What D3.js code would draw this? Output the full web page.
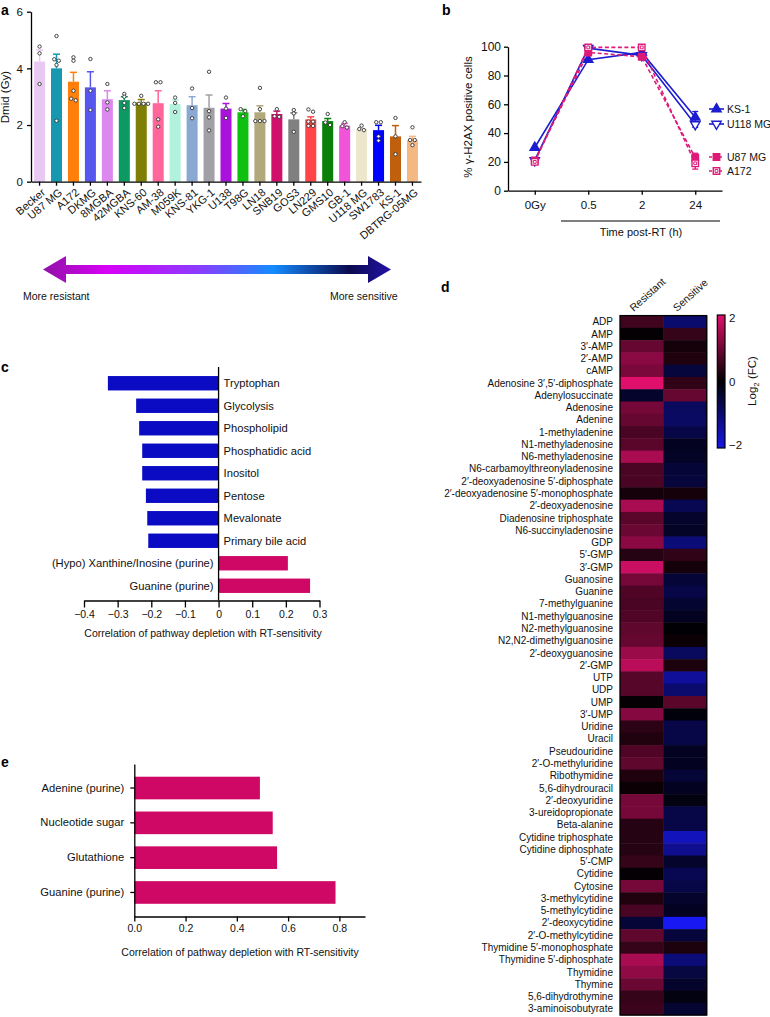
<!DOCTYPE html>
<html><head><meta charset="utf-8">
<script src="https://cdn.jsdelivr.net/npm/d3@7"></script>
<style>
body{margin:0;background:#fff;}
svg text{font-family:"Liberation Sans",Arial,Helvetica,sans-serif;fill:#111;}
</style></head><body>
<svg id="fig" width="770" height="1017"></svg>
<script>
// ---------- Panel a data ----------
const cellLines = ["Becker","U87 MG","A172","DKMG","8MGBA","42MGBA","KNS-60","AM-38","M059K","KNS-81","YKG-1","U138","T98G","LN18","SNB19","GOS3","LN229","GMS10","GB-1","U118 MG","SW1783","KS-1","DBTRG-05MG"];
const dmidMean = [4.24,4.0,3.53,3.33,2.91,2.88,2.8,2.77,2.74,2.7,2.61,2.58,2.45,2.45,2.39,2.2,2.2,2.14,1.98,1.85,1.82,1.6,1.47];
const dmidSem  = [0.41,0.5,0.33,0.55,0.3,0.12,0.1,0.44,0.14,0.3,0.45,0.18,0.1,0.23,0.1,0.23,0.09,0.09,0.08,0.03,0.17,0.38,0.13];
const dmidPoints = [
 [4.77,4.53,3.45],[5.14,4.32,4.27,4.12,2.15],[4.39,4.27,3.21,2.93,2.87],[4.33,3.21,2.53],
 [3.45,2.8,2.55],[3.1,3.0,2.78,2.6],[3.03,2.75,2.75,2.75,2.75],[3.51,3.51,2.2,1.94],
 [2.97,2.78,2.46],[3.29,2.6,2.24],[3.88,2.49,2.27,1.81],[2.97,2.58,2.25],[2.56,2.49,2.31],
 [3.31,2.56,2.14,2.14,2.14],[2.56,2.31,2.29],[2.53,2.41,1.76],[2.55,2.47,2.12,2.12,1.97,1.97],
 [2.39,2.09,2.0],[2.1,1.96,1.91],[1.98,1.86,1.82],[2.1,2.1,1.6,1.45],[2.25,1.6,0.97],[1.92,1.47,1.47,1.29]];
const barColors = ["#e9c9f2","#1798b0","#ff7f0a","#5757ef","#dc88ee","#0b9a62","#7f7f06","#ff6699","#b2f2dc","#8aa9d2","#a0a0a6","#a912dc","#10c010","#b1a97b","#d0106a","#808080","#ff4545","#0a800a","#f254d9","#ece6cc","#0000ff","#c0600f","#f4b882"];
const dmidTicks = [0,2,4,6];

// ---------- Panel b data ----------
const timeLabels = ["0Gy","0.5","2","24"];
const ks1Vals = [30,91,96,51],  ks1Err = [0,0,0,4];
const u118Vals = [21,99,94,46], u118Err = [0,0,0,2];
const u87Vals = [21,96,93,23],  u87Err = [1,1,1,3];
const a172Vals = [20,99.5,99.5,19], a172Err = [1,0,0,4];
const h2axTicks = [0,20,40,60,80,100];

// ---------- Panel c data ----------
const pathwaysC = ["Tryptophan","Glycolysis","Phospholipid","Phosphatidic acid","Inositol","Pentose","Mevalonate","Primary bile acid","(Hypo) Xanthine/Inosine (purine)","Guanine (purine)"];
const corrC = [-0.329,-0.245,-0.236,-0.227,-0.227,-0.216,-0.212,-0.209,0.206,0.272];
const ticksC = [-0.4,-0.3,-0.2,-0.1,0,0.1,0.2,0.3];

// ---------- Panel e data ----------
const pathwaysE = ["Adenine (purine)","Nucleotide sugar","Glutathione","Guanine (purine)"];
const corrE = [0.49,0.54,0.557,0.785];
const ticksE = [0,0.2,0.4,0.6,0.8];

// ---------- Panel d data ----------
const metabolites = ["ADP","AMP","3′-AMP","2′-AMP","cAMP","Adenosine 3′,5′-diphosphate","Adenylosuccinate","Adenosine","Adenine","1-methyladenine","N1-methyladenosine","N6-methyladenosine","N6-carbamoylthreonyladenosine","2′-deoxyadenosine 5′-diphosphate","2′-deoxyadenosine 5′-monophosphate","2′-deoxyadenosine","Diadenosine triphosphate","N6-succinyladenosine","GDP","5′-GMP","3′-GMP","Guanosine","Guanine","7-methylguanine","N1-methylguanosine","N2-methylguanosine","N2,N2-dimethylguanosine","2′-deoxyguanosine","2′-GMP","UTP","UDP","UMP","3′-UMP","Uridine","Uracil","Pseudouridine","2′-O-methyluridine","Ribothymidine","5,6-dihydrouracil","2′-deoxyuridine","3-ureidopropionate","Beta-alanine","Cytidine triphosphate","Cytidine diphosphate","5′-CMP","Cytidine","Cytosine","3-methylcytidine","5-methylcytidine","2′-deoxycytidine","2′-O-methylcytidine","Thymidine 5′-monophosphate","Thymidine 5′-diphosphate","Thymidine","Thymine","5,6-dihydrothymine","3-aminoisobutyrate"];
const groups = ["Resistant","Sensitive"];
const log2Resistant = [0.6,0.05,0.95,1.3,1.15,2.1,-0.4,1.1,0.95,0.7,0.85,1.6,0.7,0.7,0.2,1.6,0.85,1.0,1.3,0.35,1.9,1.1,0.75,0.7,0.75,0.9,0.95,1.45,1.75,0.8,0.8,0.05,1.25,0.4,0.3,0.75,0.9,0.3,0.1,1.1,1.1,0.35,0.35,0.35,0.5,0.05,1.1,0.3,0.7,-0.5,0.9,0.5,1.6,1.35,1.0,0.5,0.55];
const log2Sensitive = [-1.0,0.5,0.2,0.3,-0.55,0.45,0.95,-0.85,-0.9,-0.65,-0.3,-0.35,-0.5,-0.55,0.2,-0.75,-0.4,-0.35,-1.1,0.45,0.2,-0.5,-0.65,-0.45,-0.3,-0.05,0.1,-0.85,0.25,-1.4,-1.0,0.85,-0.1,-0.65,-0.65,-0.3,-0.3,-0.5,-0.3,-0.15,-0.65,-0.65,-1.7,-1.3,-0.4,-0.75,-0.65,-0.4,-0.3,-2.2,-0.55,0.25,-1.1,-0.6,-0.4,-0.15,-0.45];
const cbTicks = [-2,0,2];

// ================= drawing =================
const svg = d3.select("#fig");
const BLUE = "#0b0bc4", PINK = "#cf0865";

function panelLabel(t,x,y){
  svg.append("text").attr("x",x).attr("y",y).attr("font-size",14).attr("font-weight","bold").style("fill","#000").text(t);
}
function styleAxis(g, fs){
  g.selectAll("path,line").attr("stroke","#000").attr("stroke-width",1.3);
  g.selectAll("text").attr("font-size",fs).style("fill","#111").attr("font-family","Liberation Sans, Arial, sans-serif");
}

// ---------- Panel a ----------
panelLabel("a",1,15);
const ax = d3.scaleBand().domain(cellLines).range([31,421]).paddingInner(0.35).paddingOuter(0.18);
const ay = d3.scaleLinear().domain([0,6]).range([181.7,11.7]);
const gA = svg.append("g");
cellLines.forEach((c,i)=>{
  const x0 = ax(c), bw = ax.bandwidth(), cx = x0+bw/2;
  const col = barColors[i];
  gA.append("rect").attr("x",x0).attr("y",ay(dmidMean[i])).attr("width",bw).attr("height",ay(0)-ay(dmidMean[i])).attr("fill",col);
  const top = ay(dmidMean[i]+dmidSem[i]);
  gA.append("line").attr("x1",cx).attr("x2",cx).attr("y1",ay(dmidMean[i])).attr("y2",top).attr("stroke",col).attr("stroke-width",1.5);
  gA.append("line").attr("x1",cx-3.5).attr("x2",cx+3.5).attr("y1",top).attr("y2",top).attr("stroke",col).attr("stroke-width",1.5);
  const pts = dmidPoints[i].slice().sort((a,b)=>b-a);
  const clusters = [];
  pts.forEach(v=>{
    const last = clusters[clusters.length-1];
    if(last && Math.abs(last[last.length-1]-v) < 0.09) last.push(v); else clusters.push([v]);
  });
  clusters.forEach(cl=>{
    cl.forEach((v,k)=>{
      const off = (k-(cl.length-1)/2)*4.6;
      gA.append("circle").attr("cx",cx+off).attr("cy",ay(v)).attr("r",1.7)
        .attr("fill","#fff").attr("stroke","#333").attr("stroke-width",0.9);
    });
  });
});
const yAxA = svg.append("g").attr("transform","translate(31,0)").call(d3.axisLeft(ay).tickValues(dmidTicks).tickFormat(d3.format("d")).tickSize(4).tickSizeOuter(0).tickPadding(4));
styleAxis(yAxA, 11.5);
const xAxA = svg.append("g").attr("transform",`translate(0,${ay(0)})`).call(d3.axisBottom(ax).tickSize(4).tickSizeOuter(0));
styleAxis(xAxA, 11);
xAxA.selectAll("text").attr("text-anchor","end").attr("x",0).attr("y",0).attr("dy","0.35em").attr("transform","translate(4,9) rotate(-40)");
svg.append("text").attr("transform","translate(9,97) rotate(-90)").attr("text-anchor","middle").attr("font-size",11.5).text("Dmid (Gy)");

// Arrow
const defs = svg.append("defs");
const grad = defs.append("linearGradient").attr("id","arrowGrad").attr("x1","0").attr("x2","1").attr("y1","0").attr("y2","0");
[["0","#9012a6"],["0.18","#d800f6"],["0.45","#8a3cff"],["0.66","#148cff"],["0.88","#0a0a4e"],["1","#2412a8"]]
  .forEach(s=>grad.append("stop").attr("offset",s[0]).attr("stop-color",s[1]));
const arrowPath = d3.path();
arrowPath.moveTo(43,269.5); arrowPath.lineTo(66,256); arrowPath.lineTo(66,265); arrowPath.lineTo(368,265);
arrowPath.lineTo(368,256); arrowPath.lineTo(391,269.5); arrowPath.lineTo(368,283); arrowPath.lineTo(368,274);
arrowPath.lineTo(66,274); arrowPath.lineTo(66,283); arrowPath.closePath();
svg.append("path").attr("d",arrowPath.toString()).attr("fill","url(#arrowGrad)");
svg.append("text").attr("x",23).attr("y",300).attr("font-size",10.5).text("More resistant");
svg.append("text").attr("x",330).attr("y",300).attr("font-size",10.5).text("More sensitive");

// ---------- Panel b ----------
panelLabel("b",442,15);
const bx = d3.scalePoint().domain(timeLabels).range([508,722]).padding(0.5);
const by = d3.scaleLinear().domain([0,100]).range([190.7,46.7]);
const BBLUE = "#1c1cd0", BPINK = "#de1a78";
const seriesB = [
  {name:"KS-1", vals:ks1Vals, err:ks1Err, color:BBLUE, dash:null, sym:"tri", fill:true},
  {name:"U118 MG", vals:u118Vals, err:u118Err, color:BBLUE, dash:null, sym:"tridown", fill:false},
  {name:"U87 MG", vals:u87Vals, err:u87Err, color:BPINK, dash:"4,2.5", sym:"sq", fill:true},
  {name:"A172", vals:a172Vals, err:a172Err, color:BPINK, dash:"4,2.5", sym:"sq", fill:false}
];
function marker(g, s, x, y){
  const type = s.sym==="sq" ? d3.symbolSquare : d3.symbolTriangle;
  const size = s.sym==="sq" ? 42 : 38;
  g.append("path").attr("d",d3.symbol().type(type).size(size)())
    .attr("transform",`translate(${x},${y})${s.sym==="tridown"?" rotate(180)":""}`)
    .attr("stroke",s.color).attr("stroke-width",1.4).attr("fill",s.fill?s.color:"#fff");
  if(s.sym==="sq" && !s.fill){
    g.append("path").attr("d",d3.symbol().type(d3.symbolSquare).size(8)()).attr("transform",`translate(${x},${y})`).attr("fill","none").attr("stroke",s.color).attr("stroke-width",1);
  }
}
const gB = svg.append("g");
seriesB.forEach(s=>{
  const line = d3.line().x((d,i)=>bx(timeLabels[i])).y(d=>by(d));
  gB.append("path").attr("d",line(s.vals)).attr("fill","none").attr("stroke",s.color).attr("stroke-width",1.6).attr("stroke-dasharray",s.dash);
  s.vals.forEach((v,i)=>{
    if(s.err[i]>0){
      const x = bx(timeLabels[i]);
      gB.append("line").attr("x1",x).attr("x2",x).attr("y1",by(v-s.err[i])).attr("y2",by(v+s.err[i])).attr("stroke",s.color).attr("stroke-width",1.3);
      [v-s.err[i],v+s.err[i]].forEach(e=>gB.append("line").attr("x1",x-3).attr("x2",x+3).attr("y1",by(e)).attr("y2",by(e)).attr("stroke",s.color).attr("stroke-width",1.3));
    }
  });
});
seriesB.forEach(s=>s.vals.forEach((v,i)=>marker(gB,s,bx(timeLabels[i]),by(v))));
const yAxB = svg.append("g").attr("transform","translate(508,0)").call(d3.axisLeft(by).tickValues(h2axTicks).tickSize(4).tickSizeOuter(0).tickPadding(3));
styleAxis(yAxB, 12);
const xAxB = svg.append("g").attr("transform",`translate(0,${by(0)})`).call(d3.axisBottom(bx).tickSize(4).tickSizeOuter(0).tickPadding(6));
styleAxis(xAxB, 11.5);
svg.append("line").attr("x1",561).attr("x2",720).attr("y1",221).attr("y2",221).attr("stroke","#000").attr("stroke-width",1.2);
svg.append("text").attr("x",641).attr("y",236).attr("text-anchor","middle").attr("font-size",11).text("Time post-RT (h)");
svg.append("text").attr("transform","translate(472,117) rotate(-90)").attr("text-anchor","middle").attr("font-size",11.5).text("% γ-H2AX positive cells");
const legY = [109,124,157,171];
seriesB.forEach((s,i)=>{
  gB.append("line").attr("x1",709).attr("x2",724).attr("y1",legY[i]).attr("y2",legY[i]).attr("stroke",s.color).attr("stroke-width",1.6).attr("stroke-dasharray",s.dash?"3,2":null);
  marker(gB,s,716.5,legY[i]);
  svg.append("text").attr("x",727).attr("y",legY[i]+4).attr("font-size",10.5).text(s.name);
});

// ---------- Panel c ----------
panelLabel("c",1,372);
const cx = d3.scaleLinear().domain([-0.4,0.3]).range([84,319.5]);
const cy = d3.scaleBand().domain(pathwaysC).range([372,597]).paddingInner(0.36).paddingOuter(0.18);
const gC = svg.append("g");
pathwaysC.forEach((p,i)=>{
  const v = corrC[i];
  gC.append("rect").attr("x",cx(Math.min(0,v))).attr("y",cy(p)).attr("width",Math.abs(cx(v)-cx(0))).attr("height",cy.bandwidth()).attr("fill",v<0?BLUE:PINK);
  const t = gC.append("text").attr("y",cy(p)+cy.bandwidth()/2).attr("dy","0.35em").attr("font-size",11.2).text(p);
  if(v<0) t.attr("x",cx(0)+5).attr("text-anchor","start"); else t.attr("x",cx(0)-5).attr("text-anchor","end");
});
svg.append("line").attr("x1",cx(0)).attr("x2",cx(0)).attr("y1",367).attr("y2",600).attr("stroke","#000").attr("stroke-width",1.3);
const fmtC = d=> d===0 ? "0" : d3.format(".1f")(d).replace("-","−");
const xAxC = svg.append("g").attr("transform","translate(0,600.5)").call(d3.axisBottom(cx).tickValues(ticksC).tickFormat(fmtC).tickSize(7).tickSizeOuter(0).tickPadding(3));
styleAxis(xAxC, 10.5);
svg.append("text").attr("x",203).attr("y",637).attr("text-anchor","middle").attr("font-size",10.5).text("Correlation of pathway depletion with RT-sensitivity");

// ---------- Panel e ----------
panelLabel("e",1,767);
const ex = d3.scaleLinear().domain([0,0.9]).range([134.3,365]);
const ey = d3.scaleBand().domain(pathwaysE).range([764,916.5]).paddingInner(0.35).paddingOuter(0.365);
const gE = svg.append("g");
pathwaysE.forEach((p,i)=>{
  gE.append("rect").attr("x",ex(0)).attr("y",ey(p)).attr("width",ex(corrE[i])-ex(0)).attr("height",ey.bandwidth()).attr("fill",PINK);
});
const yAxE = svg.append("g").attr("transform",`translate(${ex(0)},0)`).call(d3.axisLeft(ey).tickSize(4).tickSizeOuter(0).tickPadding(6));
styleAxis(yAxE, 11.2);
const xAxE = svg.append("g").attr("transform","translate(0,916.5)").call(d3.axisBottom(ex).tickValues(ticksE).tickFormat(d3.format(".1f")).tickSize(5).tickSizeOuter(0).tickPadding(3));
styleAxis(xAxE, 10.5);
svg.append("text").attr("x",240).attr("y",956).attr("text-anchor","middle").attr("font-size",10.5).text("Correlation of pathway depletion with RT-sensitivity");

// ---------- Panel d ----------
panelLabel("d",441,292);
const dx = d3.scaleBand().domain(groups).range([620,706.7]);
const dy = d3.scaleBand().domain(metabolites).range([315.6,1015]);
const color = d3.scaleLinear().domain([-2.2,0,2.2]).range(["#1818f2","#000000","#ea1070"]).clamp(true);
const gD = svg.append("g");
metabolites.forEach((m,i)=>{
  [log2Resistant[i],log2Sensitive[i]].forEach((v,j)=>{
    gD.append("rect").attr("x",dx(groups[j])).attr("y",dy(m)).attr("width",dx.bandwidth()+0.5).attr("height",dy.bandwidth()+0.5).attr("fill",color(v));
  });
  gD.append("text").attr("x",613).attr("y",dy(m)+dy.bandwidth()/2).attr("dy","0.35em").attr("text-anchor","end").attr("font-size",10).text(m);
});
gD.append("rect").attr("x",620).attr("y",315.6).attr("width",86.7).attr("height",1015-315.6).attr("fill","none").attr("stroke","#000").attr("stroke-width",1.3);
groups.forEach(g=>{
  svg.append("text").attr("transform",`translate(${dx(g)+dx.bandwidth()/2-8},312) rotate(-42)`).attr("font-size",10.5).text(g);
});
const cbY = d3.scaleLinear().domain([-2.1,2.1]).range([448,315]);
const cgrad = defs.append("linearGradient").attr("id","cbGrad").attr("x1","0").attr("x2","0").attr("y1","1").attr("y2","0");
d3.range(0,1.0001,0.1).forEach(t=>{
  const v = -2.1 + t*4.2;
  cgrad.append("stop").attr("offset",t).attr("stop-color",color(v));
});
svg.append("rect").attr("x",717.3).attr("y",315).attr("width",7.7).attr("height",448-315).attr("fill","url(#cbGrad)").attr("stroke","#000").attr("stroke-width",1.2);
const cbAx = svg.append("g").attr("transform","translate(725,0)").call(d3.axisRight(cbY).tickValues(cbTicks).tickFormat(d=>d<0?"−"+Math.abs(d):d).tickSize(0).tickPadding(4));
cbAx.select(".domain").remove();
styleAxis(cbAx, 11.5);
const lg = svg.append("text").attr("transform","translate(756,381) rotate(-90)").attr("text-anchor","middle").attr("font-size",11.5);
lg.append("tspan").text("Log");
lg.append("tspan").attr("font-size",8).attr("dy",3).text("2");
lg.append("tspan").attr("dy",-3).text(" (FC)");
</script>
</body></html>
